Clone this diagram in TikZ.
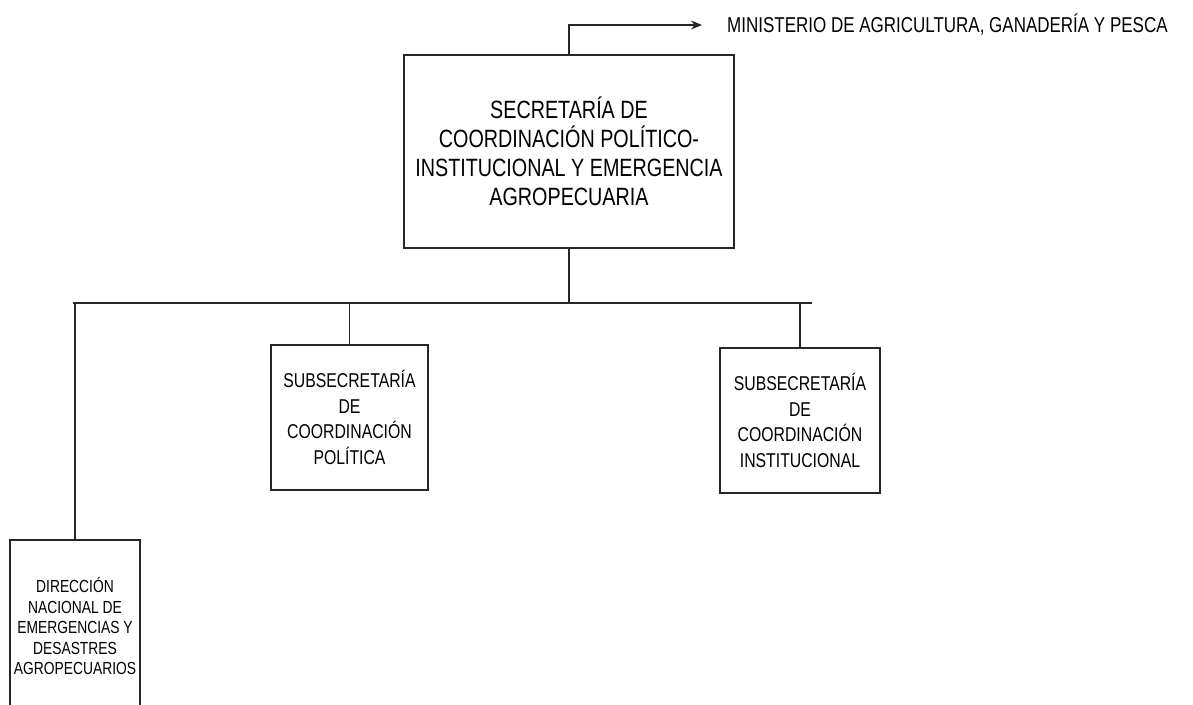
\documentclass[tikz,border=0pt]{standalone}
\usepackage{fontspec}
\setmainfont{Liberation Sans}[FakeStretch=0.79]
\usetikzlibrary{arrows.meta}
\tikzset{
  box/.style={draw=black!85, line width=1.8pt, rectangle, align=center, inner sep=0pt},
  conn/.style={draw=black!85, line width=1.8pt},
  bigtxt/.style={font=\fontsize{25}{29}\selectfont},
  midtxt/.style={font=\fontsize{20}{25.5}\selectfont},
  smltxt/.style={font=\fontsize{17.5}{20.5}\selectfont},
}
\begin{document}
\begin{tikzpicture}[x=1pt,y=-1pt]
\useasboundingbox (0,0) rectangle (1193,704);
\clip (0,0) rectangle (1193,704);
\node[box, bigtxt, minimum width=330pt, minimum height=193pt] (main) at (569,151.5)
  {SECRETARÍA DE\\COORDINACIÓN POLÍTICO-\\INSTITUCIONAL Y EMERGENCIA\\AGROPECUARIA};
\coordinate (arrowEnd) at (702,25);
\node[anchor=west, font=\fontsize{21.5}{24}\selectfont, inner sep=0pt] (mag) at (727,25)
  {MINISTERIO DE AGRICULTURA, GANADERÍA Y PESCA};
\draw[conn, -{Stealth[length=11pt,width=9pt]}] (main.north) |- (arrowEnd);
\coordinate (barL) at (73,303);
\coordinate (barR) at (812,303);
\draw[conn] (barL) -- (barR);
\draw[conn] (main.south) -- (main.south |- barL);
\node[box, midtxt, minimum width=157pt, minimum height=145pt] (pol) at (349.5,417.5)
  {SUBSECRETARÍA\\DE\\COORDINACIÓN\\POLÍTICA};
\node[box, midtxt, minimum width=160pt, minimum height=145pt] (inst) at (800,420.5)
  {SUBSECRETARÍA\\DE\\COORDINACIÓN\\INSTITUCIONAL};
\draw[conn] (pol.north |- barL) -- (pol.north);
\draw[conn] (inst.north |- barL) -- (inst.north);
\node[box, smltxt, minimum width=130pt, minimum height=172pt] (dir) at (75,626)
  {DIRECCIÓN\\NACIONAL DE\\EMERGENCIAS Y\\DESASTRES\\AGROPECUARIOS};
\draw[conn] (dir.north |- barL) -- (dir.north);
\end{tikzpicture}
\end{document}
